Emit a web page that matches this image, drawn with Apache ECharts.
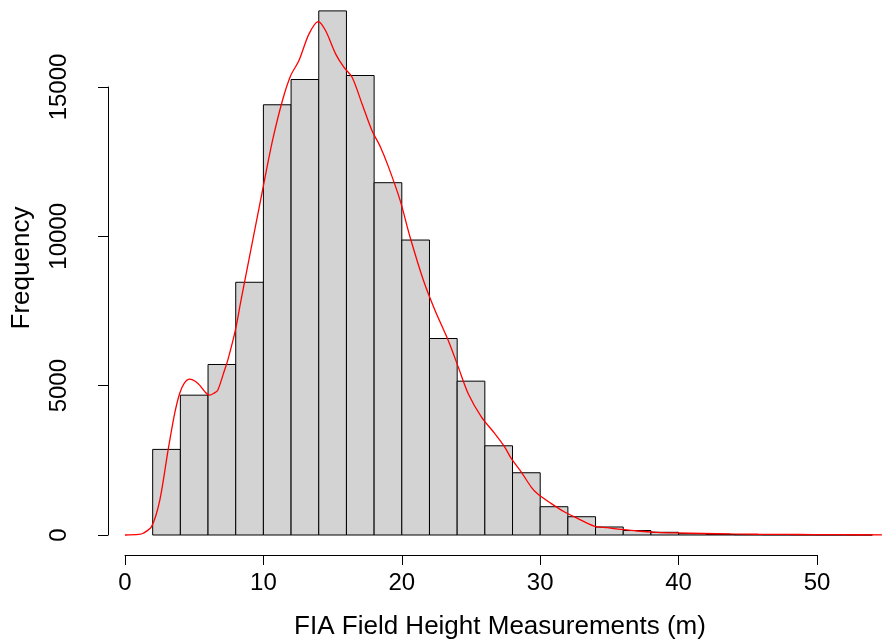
<!DOCTYPE html>
<html>
<head>
<meta charset="utf-8">
<script src="https://cdn.jsdelivr.net/npm/echarts@6/dist/echarts.min.js"></script>
<style>
html,body{margin:0;padding:0;background:#fff;}
#chart{width:882px;height:642px;}
</style>
</head>
<body>
<div id="chart"></div>
<script>
// Histogram bins (left edges, width 2 m) and counts
const binLeft = [2,4,6,8,10,12,14,16,18,20,22,24,26,28,30,32,34,36,38,40,42,44,46,48,50,52];
const binWidth = 2;
const counts = [2866,4682,5709,8462,14405,15251,17548,15385,11796,9876,6579,5151,2987,2084,947,612,268,150,90,45,20,10,6,4,2,1];

// Density curve (scaled to frequency)
const densX = [0,1.0,1.32,1.93,2.53,3.13,3.61,3.97,4.3,4.7,5.1,5.42,5.8,6.14,6.5,6.74,7.23,7.47,8.02,8.43,9.99,10.72,11.44,12.04,12.64,13.37,14.04,14.57,15.3,15.9,16.5,17.22,17.94,18.55,19.15,19.99,20.71,21.68,22.52,23.48,24.21,24.93,25.89,26.86,27.58,28.06,28.78,29.5,29.99,30.95,31.91,32.88,34.08,35.04,36.0,37.21,38.66,40,42,44,46,48,50,52,55];
const densY = [0,20,57,280,1170,2843,4070,4740,5080,5217,5150,5017,4800,4682,4760,4850,5518,5853,6856,7860,11538,13211,14548,15385,15886,16779,17191,16890,16110,15663,15328,14438,13545,13000,12318,11204,9977,8528,7525,6522,5629,4739,3957,3401,2953,2565,2117,1615,1371,1060,779,558,301,244,191,134,90,70,50,35,25,20,15,10,5];

const xTicks = [0,10,20,30,40,50];
const yTicks = [0,5000,10000,15000];
const xTitle = 'FIA Field Height Measurements (m)';
const yTitle = 'Frequency';

const barData = binLeft.map((l,i)=>[l, l+binWidth, counts[i]]);
const lineData = densX.map((x,i)=>[x, densY[i]]);

const chart = echarts.init(document.getElementById('chart'), null, {renderer:'canvas'});
const font = 'Liberation Sans, Arial, Helvetica, sans-serif';
const pxPerUnit = 692 / 50;
chart.setOption({
  animation:false,
  backgroundColor:'#ffffff',
  grid:[
    {left:125, right:65, top:87, bottom:107, containLabel:false},
    {left:125, width:pxPerUnit*55, top:87, bottom:107, containLabel:false}
  ],
  xAxis:[{
    type:'value', gridIndex:0, min:xTicks[0], max:xTicks[xTicks.length-1], interval:10,
    offset:20,
    axisLine:{show:true, onZero:false, lineStyle:{color:'#000', width:1}},
    axisTick:{show:true, length:10, lineStyle:{color:'#000'}},
    axisLabel:{fontSize:24, color:'#000', fontFamily:font, margin:16,
      formatter:function(v){return String(v);}},
    splitLine:{show:false}
  },{
    type:'value', gridIndex:1, min:0, max:55, show:false
  }],
  yAxis:[{
    type:'value', gridIndex:0, min:yTicks[0], max:yTicks[yTicks.length-1], interval:5000,
    offset:17,
    axisLine:{show:true, onZero:false, lineStyle:{color:'#000', width:1}},
    axisTick:{show:true, length:10, lineStyle:{color:'#000'}},
    axisLabel:{fontSize:24, color:'#000', fontFamily:font, margin:37, rotate:90,
      formatter:function(v){return String(v);}},
    splitLine:{show:false}
  },{
    type:'value', gridIndex:1, min:0, max:15000, show:false
  }],
  graphic:[
    {type:'text', x:500, y:627, style:{text:xTitle, fontSize:26, fontFamily:font, fill:'#000', align:'center', verticalAlign:'middle'}},
    {type:'text', x:22, y:268, rotation:Math.PI/2, style:{text:yTitle, fontSize:26, fontFamily:font, fill:'#000', align:'center', verticalAlign:'middle'}}
  ],
  series:[
    {
      type:'custom',
      xAxisIndex:0, yAxisIndex:0,
      clip:false,
      data:barData,
      encode:{x:[0,1], y:2},
      renderItem:function(params, api){
        const p0 = api.coord([api.value(0), api.value(2)]);
        const p1 = api.coord([api.value(1), 0]);
        return {
          type:'rect',
          shape:{x:p0[0], y:p0[1], width:p1[0]-p0[0], height:p1[1]-p0[1]},
          style:{fill:'#d3d3d3', stroke:'#000', lineWidth:1}
        };
      },
      z:2
    },
    {
      type:'line',
      xAxisIndex:1, yAxisIndex:1,
      data:lineData,
      showSymbol:false,
      smooth:0.3,
      clip:false,
      lineStyle:{color:'#ff0000', width:1.3},
      z:5
    }
  ]
});
</script>
</body>
</html>
